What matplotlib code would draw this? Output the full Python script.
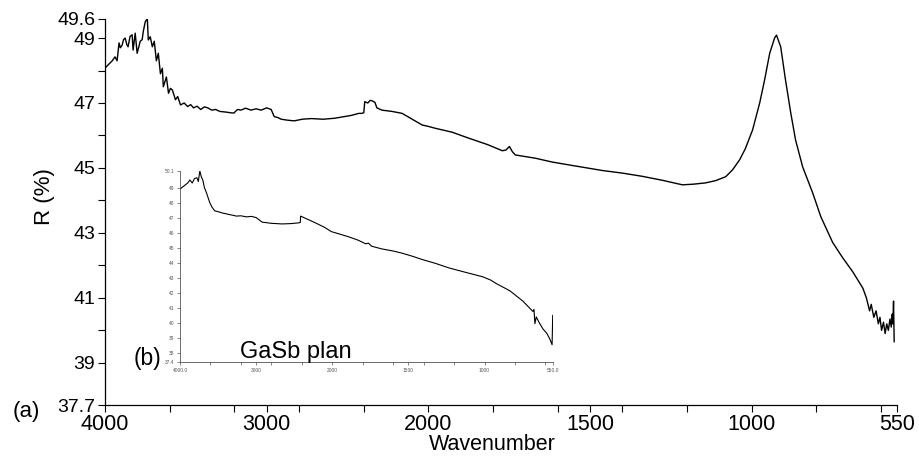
import numpy as np
import matplotlib
matplotlib.use('Agg')
import matplotlib.pyplot as plt

plt.rcParams['font.family'] = ['Liberation Sans', 'DejaVu Sans']

# main spectrum (a)
main_wn = [4000, 3985, 3969, 3955, 3938, 3925, 3913, 3905, 3894, 3885, 3875, 3865,
           3857, 3845, 3832, 3826, 3813, 3801, 3790, 3782, 3770, 3763, 3751, 3738,
           3732, 3720, 3707, 3695, 3682, 3670, 3657, 3645, 3639, 3620, 3607, 3595,
           3583, 3564, 3550, 3533, 3510, 3489, 3470, 3452, 3430, 3408, 3385, 3364,
           3340, 3315, 3290, 3252, 3225, 3203, 3180, 3159, 3130, 3097, 3065, 3034,
           3000, 2972, 2953, 2930, 2910, 2870, 2829, 2780, 2723, 2650, 2579, 2520,
           2474, 2430, 2411, 2399, 2393, 2374, 2360, 2349, 2330, 2318, 2287, 2224,
           2162, 2100, 2037, 2000, 1978, 1926, 1873, 1817, 1771, 1760, 1749, 1740,
           1731, 1700, 1669, 1616, 1563, 1502, 1461, 1399, 1337, 1276, 1214, 1180,
           1142, 1111, 1080, 1059, 1037, 1019, 997, 975, 960, 944, 929, 923,
           910, 895, 879, 864, 842, 811, 786, 749, 718, 687, 656, 645,
           635, 630, 622, 615, 608, 603, 598, 592, 587, 582, 577, 572,
           568, 565, 563, 561, 559]
main_r = [48.07, 48.15, 48.23, 48.30, 48.42, 48.30, 48.85, 48.70, 48.78, 48.95, 49.00, 48.80,
          48.73, 49.05, 49.10, 48.63, 49.15, 48.53, 48.75, 48.90, 48.95, 49.20, 49.50, 49.60,
          48.94, 49.04, 48.73, 48.90, 48.30, 48.53, 47.90, 48.07, 47.50, 47.80, 47.30, 47.45,
          47.40, 47.10, 47.20, 46.94, 47.00, 46.89, 46.95, 46.85, 46.90, 46.80, 46.88, 46.85,
          46.78, 46.80, 46.74, 46.72, 46.70, 46.69, 46.80, 46.78, 46.84, 46.78, 46.82, 46.78,
          46.85, 46.80, 46.58, 46.55, 46.50, 46.47, 46.45, 46.50, 46.52, 46.50, 46.53, 46.58,
          46.62, 46.68, 46.68, 46.70, 47.04, 47.00, 47.08, 47.07, 47.02, 46.85, 46.78, 46.74,
          46.68, 46.50, 46.32, 46.28, 46.22, 46.10, 45.91, 45.72, 45.53, 45.55, 45.66, 45.50,
          45.40, 45.35, 45.30, 45.18, 45.09, 44.99, 44.92, 44.84, 44.74, 44.62, 44.48, 44.50,
          44.54, 44.61, 44.73, 44.94, 45.25, 45.60, 46.17, 47.00, 47.70, 48.53, 49.00, 49.09,
          48.73, 47.70, 46.70, 45.86, 45.03, 44.23, 43.50, 42.70, 42.23, 41.80, 41.30, 41.00,
          40.60, 40.80, 40.40, 40.60, 40.20, 40.40, 40.00, 40.25, 39.90, 40.20, 40.00, 40.35,
          40.10, 40.50, 40.20, 40.90, 39.65]

# inset spectrum (b), GaSb plan
inset_wn = [4000, 3950, 3900, 3870, 3840, 3810, 3779, 3760, 3740, 3720, 3701, 3680,
            3649, 3630, 3610, 3580, 3545, 3490, 3441, 3400, 3350, 3300, 3260, 3200,
            3130, 3060, 3000, 2922, 2860, 2800, 2730, 2662, 2550, 2441, 2420, 2416,
            2351, 2221, 2100, 2013, 1950, 1894, 1830, 1781, 1762, 1742, 1675, 1600,
            1543, 1470, 1411, 1320, 1232, 1120, 1013, 960, 920, 834, 748, 682,
            675, 669, 660, 640, 616, 590, 570, 556, 552]
inset_r = [48.90, 49.10, 49.30, 49.50, 49.30, 49.60, 49.65, 49.40, 50.10, 49.70, 49.50, 49.00,
           48.60, 48.30, 48.00, 47.70, 47.45, 47.38, 47.30, 47.26, 47.20, 47.15, 47.10, 47.12,
           47.05, 47.08, 47.00, 46.70, 46.66, 46.62, 46.60, 46.58, 46.60, 46.65, 46.68, 47.10,
           46.95, 46.65, 46.35, 46.07, 45.90, 45.73, 45.50, 45.26, 45.30, 45.10, 44.92, 44.78,
           44.64, 44.42, 44.22, 43.95, 43.65, 43.35, 43.07, 42.85, 42.60, 42.14, 41.45, 40.76,
           40.90, 39.95, 40.40, 40.00, 39.60, 39.30, 38.90, 38.55, 40.50]

main_yticks = [37.7, 39, 41, 43, 45, 47, 49, 49.6]
main_ylabels = ['37.7', '39', '41', '43', '45', '47', '49', '49.6']
x_ticks = [4000, 3000, 2000, 1500, 1000, 550]
main_xlabels = ['4000', '3000', '2000', '1500', '1000', '550']
inset_xlabels = ['4000.0', '3000', '2000', '1500', '1000', '550.0']
x_minor = [3600, 3200, 2800, 2400, 1800, 1600, 1400, 1200, 800, 600]
inset_yticks = [37.4, 38, 39, 40, 41, 42, 43, 44, 45, 46, 47, 48, 49, 50.1]
inset_ylabels = ['37.4', '38', '39', '40', '41', '42', '43', '44', '45', '46', '47', '48', '49', '50.1']


# the spectrometer halves the scale above 2000 cm-1
def fwd(x):
    x = np.asarray(x, dtype=float)
    return np.where(x > 2000, 2000 + (x - 2000) / 2, x)


def inv(y):
    y = np.asarray(y, dtype=float)
    return np.where(y > 2000, 2000 + (y - 2000) * 2, y)


fig = plt.figure(figsize=(9.2, 4.59), dpi=100)
ax = fig.add_axes([0.1141, 0.1176, 0.861, 0.842])
ax.set_xscale('function', functions=(fwd, inv))
ax.plot(main_wn, main_r, color='black', lw=1.0)
ax.set_xlim(4000, 550)
ax.set_ylim(37.7, 49.6)
ax.set_xticks(x_ticks)
ax.set_xticklabels(main_xlabels, fontsize=15.5)
ax.set_xticks(x_minor, minor=True)
ax.set_yticks(main_yticks)
ax.set_yticklabels(main_ylabels, fontsize=14)
ax.set_yticks([40, 42, 44, 46, 48], minor=True)
ax.tick_params(axis='both', which='both', direction='out', length=5, width=0.8, pad=2)
ax.tick_params(axis='x', which='major', pad=1.5)
for s in ['top', 'right']:
    ax.spines[s].set_visible(False)
for s in ['left', 'bottom']:
    ax.spines[s].set_linewidth(0.9)

fig.text(45 / 920, 1 - 197 / 459, 'R (%)', rotation=90, fontsize=16, ha='center', va='center')
fig.text(492 / 920, 1 - 444 / 459, 'Wavenumber', fontsize=15.5, ha='center', va='center')
fig.text(26 / 920, 1 - 411 / 459, '(a)', fontsize=16, ha='center', va='center')
fig.text(148 / 920, 1 - 359 / 459, '(b)', fontsize=16.5, ha='center', va='center')

# inset
ins = fig.add_axes([0.1957, 0.2113, 0.4054, 0.4162])
ins.set_xscale('function', functions=(fwd, inv))
ins.plot(inset_wn, inset_r, color='black', lw=0.8)
ins.set_xlim(4000, 550)
ins.set_ylim(37.4, 50.1)
ins.set_xticks(x_ticks)
ins.set_xticklabels(inset_xlabels, fontsize=3.5, color='#555555')
ins.set_xticks(x_minor, minor=True)
ins.set_yticks(inset_yticks)
ins.set_yticklabels(inset_ylabels, fontsize=3.5, color='#555555')
ins.tick_params(axis='both', which='both', direction='out', length=2, width=0.5, pad=2,
                colors='#555555')
ins.patch.set_alpha(0)
for s in ['top', 'right']:
    ins.spines[s].set_visible(False)
for s in ['left', 'bottom']:
    ins.spines[s].set_linewidth(0.6)
    ins.spines[s].set_color('#555555')

fig.text(296 / 920, 1 - 358 / 459, 'GaSb plan', fontsize=17, ha='center', va='baseline')

fig.savefig('out.png', dpi=100)
